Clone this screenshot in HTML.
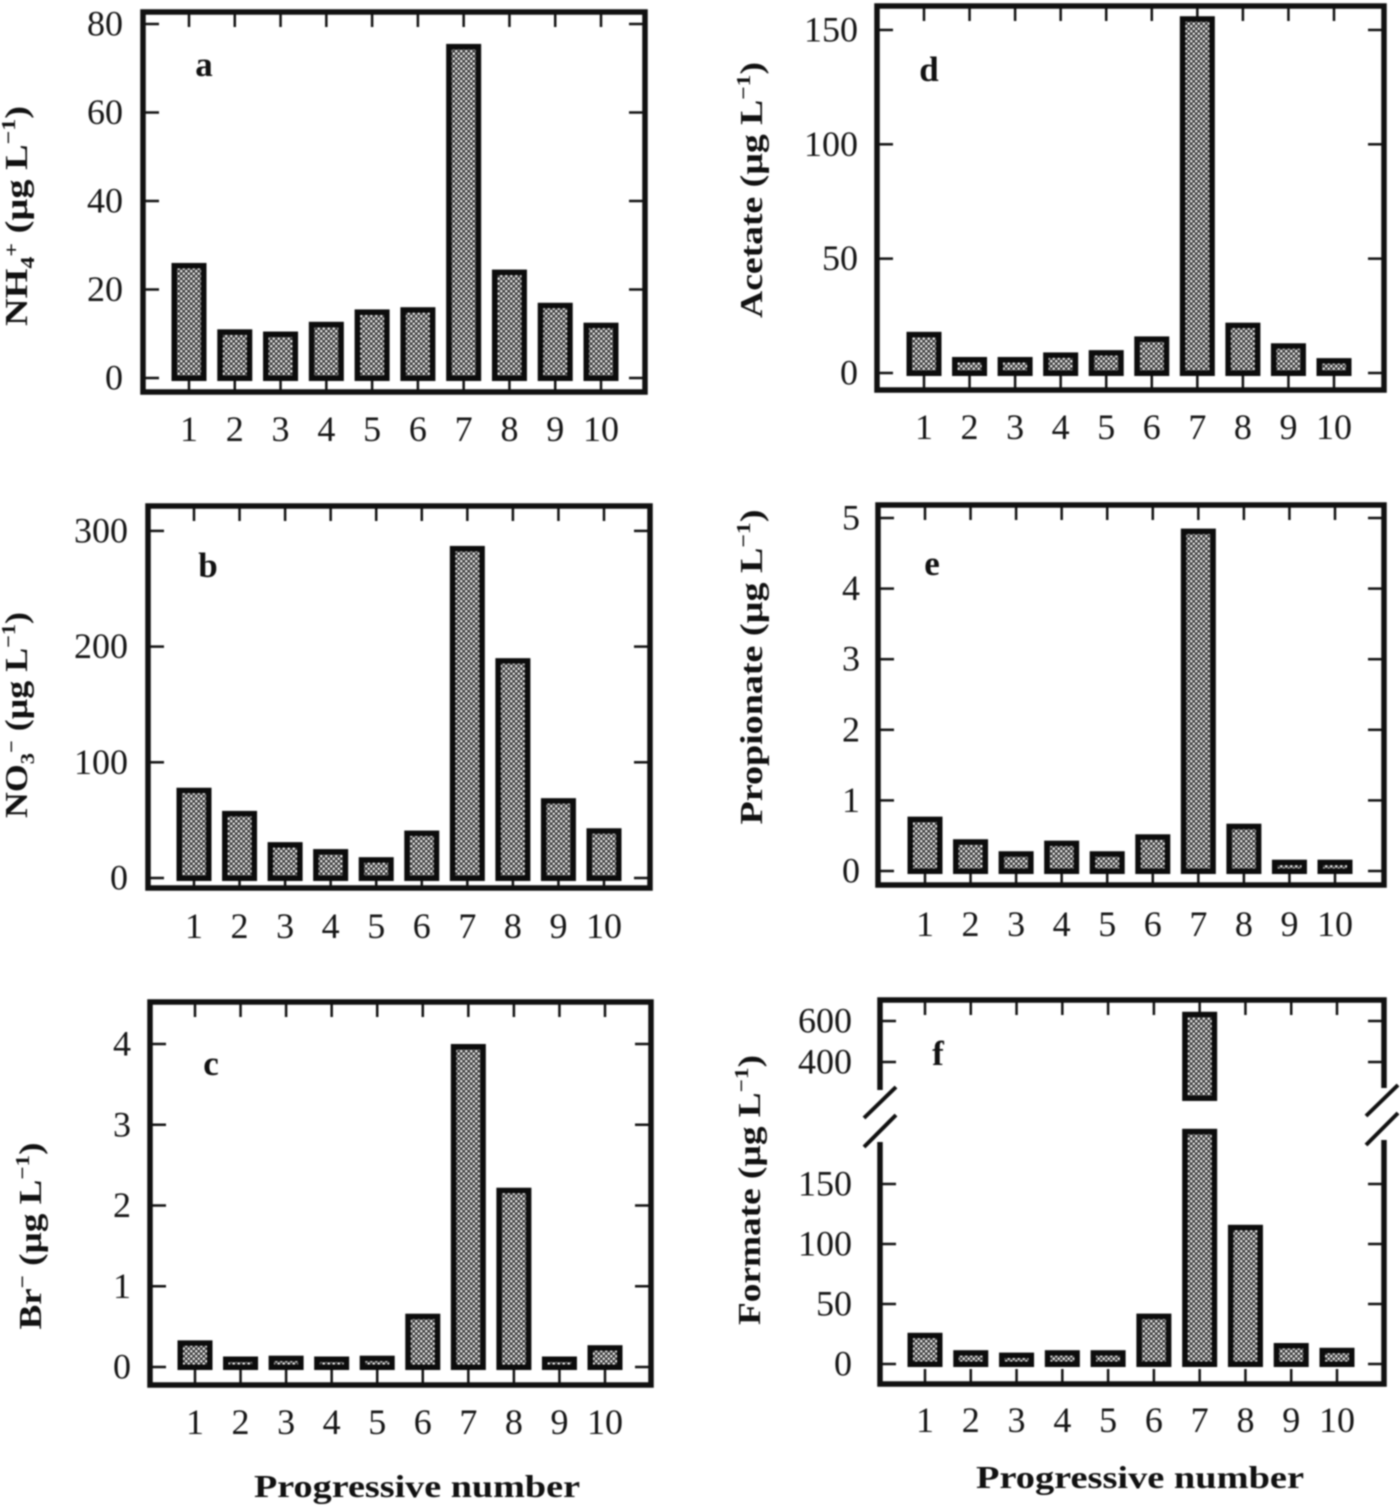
<!DOCTYPE html>
<html>
<head>
<meta charset="utf-8">
<title>Ion concentrations by progressive number</title>
<style>
html,body{margin:0;padding:0;background:#fff;width:1400px;height:1507px;overflow:hidden}
svg{display:block;filter:blur(0.7px)}
text{font-family:"Liberation Serif",serif;fill:#161616}
.tick-label{font-size:36px}
.axis-title{font-size:32px;font-weight:bold;fill:#111}
.panel-letter{font-size:35px;font-weight:bold;fill:#111}
.sub{font-size:20px}
</style>
</head>
<body>
<svg id="chart" xmlns="http://www.w3.org/2000/svg" width="1400" height="1507" viewBox="0 0 1400 1507">
<defs>
<pattern id="stipple" width="5" height="5" patternUnits="userSpaceOnUse">
<rect width="5" height="5" fill="#3a3a3a"/>
<circle cx="1.25" cy="1.25" r="1.2" fill="#fff"/>
<circle cx="3.75" cy="3.75" r="1.2" fill="#fff"/>
</pattern>
</defs>
<text class="axis-title" x="417" y="1497" text-anchor="middle" textLength="326" lengthAdjust="spacingAndGlyphs">Progressive number</text>
<text class="axis-title" x="1140" y="1488" text-anchor="middle" textLength="328" lengthAdjust="spacingAndGlyphs">Progressive number</text>
</svg>
<script>
const categories = [1, 2, 3, 4, 5, 6, 7, 8, 9, 10];
const ammoniumValues = [26, 11, 10.5, 12.7, 15.5, 16, 75.5, 24.5, 17, 12.5];
const ammoniumTicks = [0, 20, 40, 60, 80];
const nitrateValues = [78, 58, 31, 25, 18, 41, 287, 190, 69, 43];
const nitrateTicks = [0, 100, 200, 300];
const bromideValues = [0.33, 0.13, 0.14, 0.13, 0.14, 0.66, 4.0, 2.22, 0.13, 0.27];
const bromideTicks = [0, 1, 2, 3, 4];
const acetateValues = [18, 7, 7, 9, 10, 16, 156, 22, 13, 6.5];
const acetateTicks = [0, 50, 100, 150];
const propionateValues = [0.77, 0.45, 0.28, 0.43, 0.28, 0.52, 4.85, 0.67, 0.16, 0.16];
const propionateTicks = [0, 1, 2, 3, 4, 5];
const formateValues = [26, 11.5, 9.5, 11.5, 11.5, 42, 645, 116, 17.5, 13.5];
const formateTicks = [0, 50, 100, 150, 400, 600];
const formateBreakLow = 196;
const formateBreakHigh = 210;

const NS = 'http://www.w3.org/2000/svg';
const svg = document.getElementById('chart');
const BAR_STROKE = 5.5;
const BAR_OUTER = 35;

function make(tag, attrs, parent) {
  const el = document.createElementNS(NS, tag);
  for (const k in attrs) el.setAttribute(k, attrs[k]);
  parent.appendChild(el);
  return el;
}

function addLine(parent, x1, y1, x2, y2, width, name) {
  const el = make('line', {x1, y1, x2, y2, stroke: '#111', 'stroke-width': width}, parent);
  
  
  return el;
}

function addBarRect(parent, x, top, bottom, name) {
  const inner = BAR_OUTER - BAR_STROKE;
  const el = make('rect', {x: x - inner / 2, y: top + BAR_STROKE / 2, width: inner, height: Math.max(1, bottom - top - BAR_STROKE), fill: 'url(#stipple)', stroke: '#0c0c0c', 'stroke-width': BAR_STROKE}, parent);
  
  
  return el;
}

function addTitle(parent, parts, x, y, length, name) {
  const t = make('text', {class: 'axis-title', transform: 'translate(' + x + ' ' + y + ') rotate(-90)', 'text-anchor': 'middle', textLength: length, lengthAdjust: 'spacingAndGlyphs'}, parent);
  
  
  parts.forEach(function (p) {
    const attrs = {};
    if (p.small) attrs.class = 'sub';
    if (p.shift) attrs.dy = p.shift;
    const s = make('tspan', attrs, t);
    s.textContent = p.text;
  });
  return t;
}

function drawPanel(o) {
  const g = make('g', {}, svg);
  
  

  const xScale = function (c) { return o.x1 + (c - 1) * (o.x10 - o.x1) / 9; };
  const yScale = o.yScale;

  categories.forEach(function (c) {
    addLine(g, xScale(c), o.top, xScale(c), o.top + 15, 2.5, 'x-tick-top-' + c);
    addLine(g, xScale(c), o.bottom, xScale(c), o.bottom - 15, 2.5, 'x-tick-bottom-' + c);
    const label = make('text', {class: 'tick-label', x: xScale(c), y: o.xLabelY, 'text-anchor': 'middle'}, g);
    
    
    label.textContent = c;
  });

  o.ticks.forEach(function (t) {
    const y = yScale(t);
    addLine(g, o.left, y, o.left + 16, y, 2.5, 'y-tick-left-' + t);
    addLine(g, o.right, y, o.right - 16, y, 2.5, 'y-tick-right-' + t);
    const label = make('text', {class: 'tick-label', x: o.yLabelX, y: y + 11.5, 'text-anchor': 'end'}, g);
    
    
    label.textContent = t;
  });

  const frame = make('path', {d: o.frame, fill: 'none', stroke: '#111', 'stroke-width': 5.5}, g);
  
  

  o.values.forEach(function (v, i) {
    const x = xScale(categories[i]);
    const base = yScale(0) + 3;
    if (o.breakLow !== undefined && v > o.breakHigh) {
      addBarRect(g, x, yScale(v), yScale(o.breakHigh), 'bar-' + categories[i] + '-upper');
      addBarRect(g, x, yScale(o.breakLow), base, 'bar-' + categories[i] + '-lower');
    } else {
      addBarRect(g, x, yScale(v), base, 'bar-' + categories[i]);
    }
  });

  const letter = make('text', {class: 'panel-letter', x: o.letterX, y: o.letterY, 'text-anchor': 'middle'}, g);
  
  
  letter.textContent = o.letter;

  addTitle(g, o.title, o.titleX, o.titleY, o.titleLen, 'y-axis-title');
  return g;
}

function boxPath(l, t, r, b) {
  return 'M' + l + ' ' + t + 'H' + r + 'V' + b + 'H' + l + 'Z';
}

function linearY(zeroY, unitPx) {
  return function (v) { return zeroY - v * unitPx; };
}

const unitSuffix = [{text: ' (µg L'}, {text: '−1', small: true, shift: -12}, {text: ')', shift: 12}];

drawPanel({letter: 'a', values: ammoniumValues, ticks: ammoniumTicks, yScale: linearY(378, 4.425),
  x1: 189, x10: 601, left: 143, right: 645, top: 12, bottom: 392, frame: boxPath(143, 12, 645, 392),
  xLabelY: 441, yLabelX: 123, letterX: 204, letterY: 76, titleX: 27, titleY: 216, titleLen: 220,
  title: [{text: 'NH'}, {text: '4', small: true, shift: 7}, {text: '+', small: true, shift: -16}, {text: ' ', shift: 9}].concat(unitSuffix.map(function (p, i) { return i === 0 ? {text: '(µg L'} : p; }))});

drawPanel({letter: 'b', values: nitrateValues, ticks: nitrateTicks, yScale: linearY(878, 1.157),
  x1: 194, x10: 604, left: 148, right: 650, top: 506, bottom: 888, frame: boxPath(148, 506, 650, 888),
  xLabelY: 938, yLabelX: 128, letterX: 208, letterY: 577, titleX: 27, titleY: 715, titleLen: 206,
  title: [{text: 'NO'}, {text: '3', small: true, shift: 7}, {text: '−', small: true, shift: -16}, {text: ' ', shift: 9}].concat(unitSuffix.map(function (p, i) { return i === 0 ? {text: '(µg L'} : p; }))});

drawPanel({letter: 'c', values: bromideValues, ticks: bromideTicks, yScale: linearY(1367, 80.75),
  x1: 195, x10: 605, left: 150, right: 651, top: 1002, bottom: 1385, frame: boxPath(150, 1002, 651, 1385),
  xLabelY: 1434, yLabelX: 131, letterX: 211, letterY: 1075, titleX: 41, titleY: 1236, titleLen: 187,
  title: [{text: 'Br'}, {text: '−', small: true, shift: -12}, {text: ' ', shift: 12}].concat(unitSuffix.map(function (p, i) { return i === 0 ? {text: '(µg L'} : p; }))});

drawPanel({letter: 'd', values: acetateValues, ticks: acetateTicks, yScale: linearY(373, 2.287),
  x1: 924, x10: 1334, left: 877, right: 1384, top: 6, bottom: 390, frame: boxPath(877, 6, 1384, 390),
  xLabelY: 439, yLabelX: 858, letterX: 929, letterY: 81, titleX: 762, titleY: 190, titleLen: 256,
  title: [{text: 'Acetate'}].concat(unitSuffix)});

drawPanel({letter: 'e', values: propionateValues, ticks: propionateTicks, yScale: linearY(871, 70.6),
  x1: 925, x10: 1335, left: 878, right: 1384, top: 505, bottom: 885, frame: boxPath(878, 505, 1384, 885),
  xLabelY: 936, yLabelX: 860, letterX: 932, letterY: 575, titleX: 762, titleY: 667, titleLen: 315,
  title: [{text: 'Propionate'}].concat(unitSuffix)});

const formateY = function (v) {
  return v <= formateBreakLow ? 1364 - v * 1.2 : 1062 - (v - 400) * 0.205;
};

drawPanel({letter: 'f', values: formateValues, ticks: formateTicks, yScale: formateY, breakLow: formateBreakLow, breakHigh: formateBreakHigh,
  x1: 925, x10: 1337, left: 880, right: 1384, top: 1000, bottom: 1384,
  frame: 'M880 1090V1000H1384V1088M1384 1140V1384H880V1142',
  xLabelY: 1432, yLabelX: 852, letterX: 938, letterY: 1065, titleX: 760, titleY: 1190, titleLen: 270,
  title: [{text: 'Formate'}].concat(unitSuffix)});

const breaks = make('g', {}, svg);


addLine(breaks, 864, 1118, 896, 1087, 4, 'axis-break-left-upper');
addLine(breaks, 864, 1147, 896, 1115, 4, 'axis-break-left-lower');
addLine(breaks, 1366, 1116, 1398, 1085, 4, 'axis-break-right-upper');
addLine(breaks, 1366, 1145, 1398, 1113, 4, 'axis-break-right-lower');
</script>
</body>
</html>
